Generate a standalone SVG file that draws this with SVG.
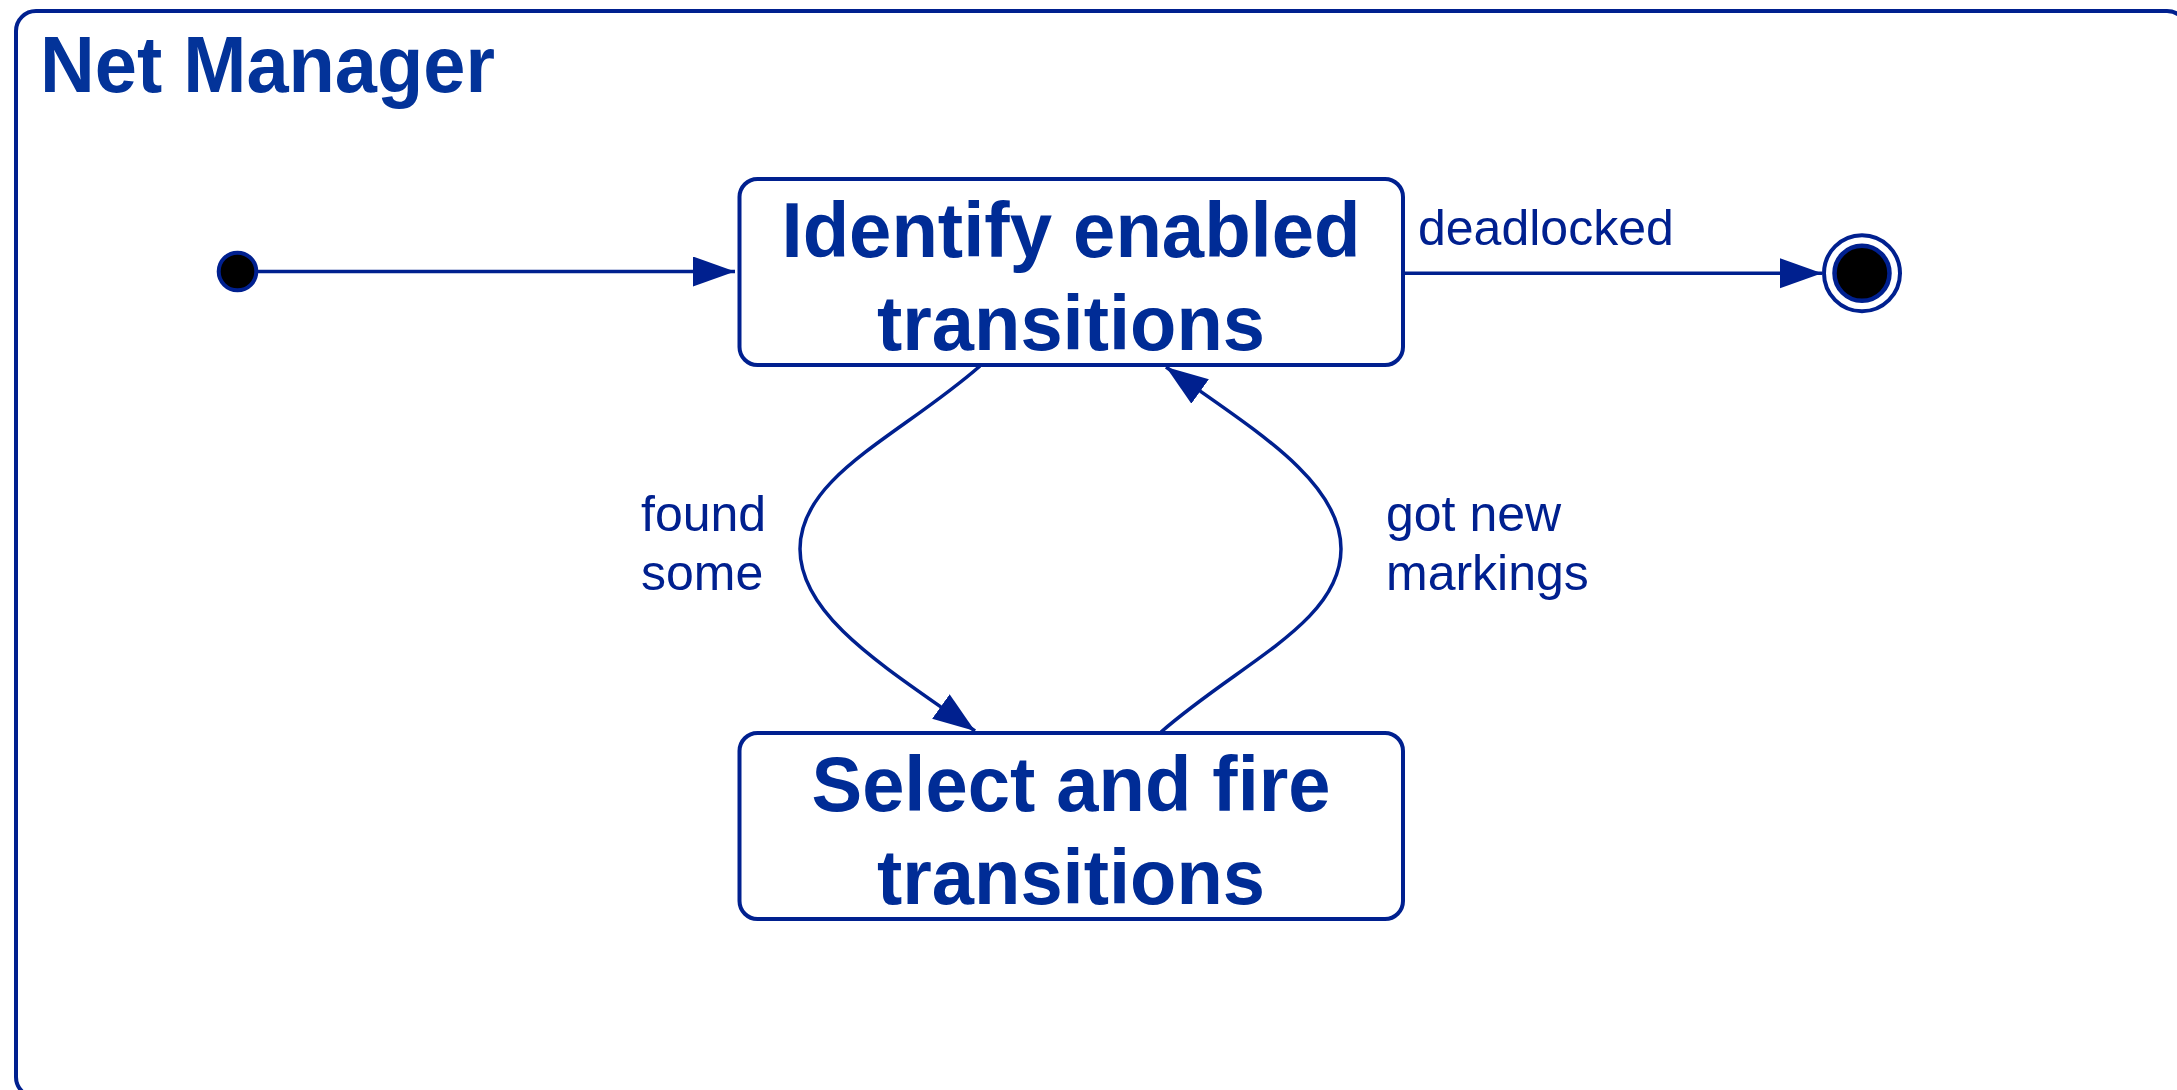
<svg xmlns="http://www.w3.org/2000/svg" width="2177" height="1090" viewBox="0 0 2177 1090">
<style>
  .frame { fill: #ffffff; stroke: #00208f; stroke-width: 4; }
  .state { fill: #ffffff; stroke: #00208f; stroke-width: 4; }
  .conn { fill: none; stroke: #00208f; stroke-width: 3.5; }
  .title { font-family: "Liberation Sans", Arial, sans-serif; font-weight: bold; fill: #033399; }
  .bold { font-family: "Liberation Sans", Arial, sans-serif; font-weight: bold; font-size: 78px; fill: #002c96; text-anchor: middle; }
  .lbl { font-family: "Liberation Sans", Arial, sans-serif; font-size: 50px; fill: #00208f; }
</style>
<defs>
  <marker id="arrow" markerUnits="userSpaceOnUse" markerWidth="44" markerHeight="32" refX="42" refY="15" orient="auto">
    <path d="M0,0 L42,15 L0,30 z" fill="#00208f"/>
  </marker>
</defs>
<rect width="2177" height="1090" fill="#ffffff"/>
<g id="net-manager">
  <rect class="frame" x="16" y="11" width="2171" height="1086" rx="20" ry="20"/>
  <text class="title" x="40" y="92" font-size="80" textLength="455" lengthAdjust="spacingAndGlyphs">Net Manager</text>
</g>
<g id="connectors">
  <line class="conn" x1="256" y1="271.5" x2="735" y2="271.5" marker-end="url(#arrow)"/>
  <line class="conn" x1="1405" y1="273.3" x2="1822" y2="273.3" marker-end="url(#arrow)"/>
  <path class="conn" d="M980,366 C900,436 800,476 800,549 C800,618 890,670 975,731" marker-end="url(#arrow)"/>
  <path class="conn" d="M1161,732 C1241,662 1341,622 1341,549 C1341,480 1251,428 1166,367" marker-end="url(#arrow)"/>
  <text class="lbl" x="1418" y="245">deadlocked</text>
  <text class="lbl" x="641" y="531">found</text>
  <text class="lbl" x="641" y="590">some</text>
  <text class="lbl" x="1386" y="531">got new</text>
  <text class="lbl" x="1386" y="590">markings</text>
</g>
<g id="initial">
  <circle cx="237.5" cy="271.5" r="18.8" fill="#000000" stroke="#00208f" stroke-width="4"/>
</g>
<g id="identify">
  <rect class="state" x="739.5" y="179" width="663.5" height="186" rx="18" ry="18"/>
  <text class="bold" x="1071" y="257" textLength="579" lengthAdjust="spacingAndGlyphs">Identify enabled</text>
  <text class="bold" x="1071" y="350" textLength="388" lengthAdjust="spacingAndGlyphs">transitions</text>
</g>
<g id="select">
  <rect class="state" x="739.5" y="733" width="663.5" height="186" rx="18" ry="18"/>
  <text class="bold" x="1071" y="811" textLength="519" lengthAdjust="spacingAndGlyphs">Select and fire</text>
  <text class="bold" x="1071" y="904" textLength="388" lengthAdjust="spacingAndGlyphs">transitions</text>
</g>
<g id="final">
  <circle cx="1862" cy="273.3" r="38" fill="#ffffff" stroke="#00208f" stroke-width="4"/>
  <circle cx="1862" cy="273.3" r="27.5" fill="#000000" stroke="#00208f" stroke-width="4.5"/>
</g>
</svg>
